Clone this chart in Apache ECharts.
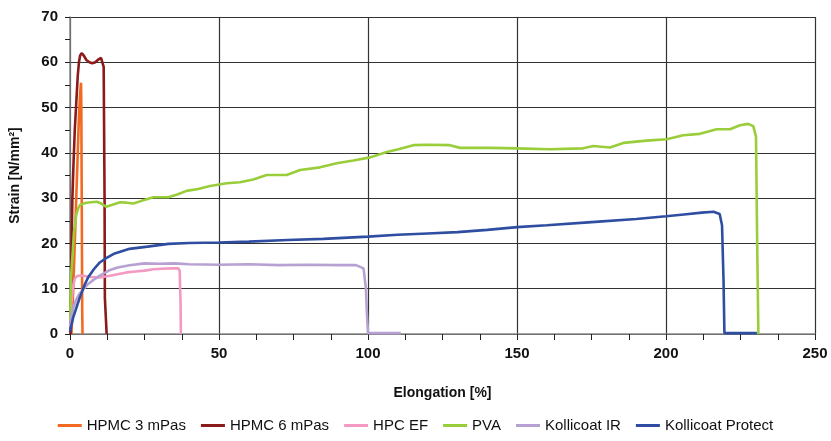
<!DOCTYPE html>
<html><head><meta charset="utf-8">
<script src="https://cdn.jsdelivr.net/npm/echarts@6/dist/echarts.min.js"></script>
<style>html,body{margin:0;padding:0;background:#fff}#c{width:831px;height:441px}</style>
</head><body><div id="c"></div>
<script>
const seriesNames = ['HPMC 3 mPas','HPMC 6 mPas','HPC EF','PVA','Kollicoat IR','Kollicoat Protect'];
const xTicks = [0,50,100,150,200,250];
const yTicks = [0,10,20,30,40,50,60,70];

const hpmc3X = [0.5,1.2,2.0,2.6,3.0,3.4,3.7,3.8,3.9,4.0,4.1,4.2];
const hpmc3Y = [0,12,28,40,48,53,55.5,50,35,20,5,0];

const hpmc6X = [0.2,0.5,0.8,1.2,1.6,2.1,2.6,3.0,3.4,3.9,4.6,5.5,6.5,7.5,8.5,9.5,10.4,10.9,11.3,11.6,11.7,12.2,12.3];
const hpmc6Y = [0,18,30,38,45,51,57,60,61.5,62,61.5,60.5,60,59.8,60,60.6,61,60.6,59,30,8,8,0];

const hpcX = [0.2,0.5,1.0,1.6,2.4,3.5,5,7,10,13,16,19,22,25,28,31,34,36.3,36.8,37.1,37.2];
const hpcY = [2,7,10.5,12.2,12.8,12.9,12.8,12.6,12.5,12.8,13.2,13.6,13.8,14.0,14.3,14.4,14.5,14.5,14.0,7,0];

const pvaX = [0.1,0.3,0.6,1.0,1.3,1.7,2.2,2.8,3.4,4.5,5.6,7,9,10.5,12.1,14,16.8,19,21.3,24,28,33,36,39.1,43,47,52.6,57,61.5,66,72.7,77.2,83.9,89.5,95.1,100.7,106.3,110.2,115.2,120,127.5,130.9,141,150,161,172.2,175.6,181.2,185.7,193.5,200.2,205.8,211.4,217,221.5,224.8,227.6,229.3,230.2,230.6,231];
const pvaY = [3,12,15,19,22.3,24.5,26.6,27.8,28.5,28.8,29.0,29.1,29.2,28.8,28.1,28.5,29.1,29.0,28.8,29.4,30.2,30.2,30.8,31.6,32.0,32.7,33.3,33.5,34.1,35.1,35.1,36.2,36.8,37.7,38.3,39.0,40.2,40.8,41.7,41.8,41.7,41.1,41.1,41.0,40.8,41.0,41.5,41.2,42.2,42.7,43.0,43.9,44.2,45.2,45.2,46.1,46.4,45.9,43.6,20,0];

const kirX = [0,0.5,1,2,3,4,6,8,10,13,16,20,25,30,35,40,50,60,70,80,90,96,98.5,99.3,99.6,100,105,111];
const kirY = [1.5,4,5.5,7.5,8.7,9.5,11,12,12.9,14,14.7,15.2,15.6,15.5,15.6,15.4,15.3,15.4,15.2,15.3,15.2,15.2,14.5,10,5,0.2,0.2,0.2];

const kprX = [0,0.5,1,2,3,4,5,6,8,10,12,15,20,26,33,40,50,60,73,85,100,110,120,130,140,150,160,175,190,200,206,212,216,218,218.8,219.3,219.6,225,230.5];
const kprY = [0.5,2,3.5,5.5,7.5,9.3,11,12.4,14.3,15.8,16.7,17.8,18.8,19.3,19.9,20.1,20.2,20.4,20.75,21.0,21.5,21.9,22.2,22.5,23.0,23.6,24.0,24.7,25.4,26.0,26.4,26.8,27.0,26.5,24,12,0.2,0.2,0.2];

const colors = ['#F26A21','#8B1A1A','#F49AC2','#9ACD3A','#B7A1D2','#2F4EA2'];
const xs = [hpmc3X,hpmc6X,hpcX,pvaX,kirX,kprX];
const ys = [hpmc3Y,hpmc6Y,hpcY,pvaY,kirY,kprY];

const chart = echarts.init(document.getElementById('c'), null, {renderer:'canvas'});
const series = seriesNames.map((n,i)=>({
  name:n, type:'line', showSymbol:false, symbol:'none', smooth:false,
  data: xs[i].map((x,j)=>[x, ys[i][j]]),
  lineStyle:{color:colors[i], width:2.6},
  itemStyle:{color:colors[i]},
  animation:false
}));
chart.setOption({
  animation:false,
  color:colors,
  grid:{left:70,right:16,top:17,bottom:107,containLabel:false},
  legend:{
    bottom:3, left:'center', icon:'rect', itemWidth:24, itemHeight:3, itemGap:15,
    textStyle:{fontFamily:'Liberation Sans, Arial', fontSize:15, color:'#111'},
    data:seriesNames
  },
  xAxis:{
    type:'value', min:xTicks[0], max:xTicks[xTicks.length-1], interval:50,
    name:'Elongation [%]', nameLocation:'middle', nameGap:52,
    nameTextStyle:{fontFamily:'Liberation Sans, Arial', fontWeight:'bold', fontSize:14, color:'#111'},
    axisLine:{show:true, lineStyle:{color:'#888', width:1.5}},
    axisTick:{show:true, inside:false, length:6, lineStyle:{color:'#222'}},
    minorTick:{show:true, splitNumber:4, length:6, lineStyle:{color:'#222'}},
    axisLabel:{fontFamily:'Liberation Sans, Arial', fontWeight:'bold', fontSize:15, color:'#111', margin:12},
    splitLine:{show:true, lineStyle:{color:'#333', width:1.2}}
  },
  yAxis:{
    type:'value', min:yTicks[0], max:yTicks[yTicks.length-1], interval:10,
    name:'Strain [N/mm²]', nameLocation:'middle', nameGap:48,
    nameTextStyle:{fontFamily:'Liberation Sans, Arial', fontWeight:'bold', fontSize:14, color:'#111'},
    axisLine:{show:true, lineStyle:{color:'#888', width:1.5}},
    axisTick:{show:true, inside:false, length:5, lineStyle:{color:'#222'}},
    minorTick:{show:true, splitNumber:2, length:5, lineStyle:{color:'#222'}},
    axisLabel:{fontFamily:'Liberation Sans, Arial', fontWeight:'bold', fontSize:15, color:'#111', margin:12},
    splitLine:{show:true, lineStyle:{color:'#333', width:1.2}}
  },
  series:series
});
</script></body></html>
